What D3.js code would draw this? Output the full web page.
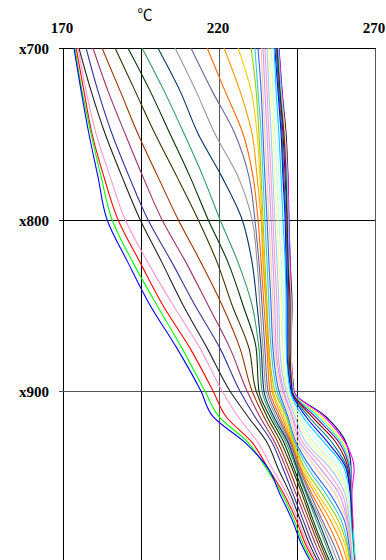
<!DOCTYPE html>
<html><head><meta charset="utf-8">
<script src="https://cdn.jsdelivr.net/npm/d3@7"></script>
<style>
html,body{margin:0;padding:0;background:#fff;overflow:hidden}
text{font-family:"Liberation Serif","Times New Roman",serif}
</style></head>
<body>
<svg id="chart" width="386" height="560"></svg>
<script>
// ---- data ----
const depths = [700,725,750,775,800,825,850,875,900,915,930,945,960,975,990,1005];
const tempTicks = [170,195,220,245,270];
const tempLabels = [170,220,270];
const depthTicks = [700,800,900];
const unitLabel = "℃";

const t01 = [173.5,175.8,178.3,181.2,184.1,190.8,197.9,206.5,214.2,218.1,228.3,235.7,239.5,243.4,246.6,251.1];
const t02 = [173.8,176.1,179.0,182.2,185.7,192.4,200.1,208.1,215.5,220.0,229.3,235.1,240.2,244.0,247.2,251.7];
const t03 = [174.2,176.7,179.3,183.1,187.6,194.7,202.0,210.7,218.1,222.3,230.6,235.7,240.8,244.7,247.9,252.4];
const t04 = [174.8,177.4,180.6,185.1,189.9,197.2,205.3,213.9,221.0,226.1,232.5,237.0,241.8,245.3,248.5,253.0];
const t05 = [175.1,179.0,183.5,188.9,194.7,201.7,208.5,216.2,223.5,229.3,235.4,238.9,242.8,246.0,249.2,253.3];
const t06 = [177.4,181.2,185.7,191.2,197.2,204.9,212.3,220.3,226.7,231.5,237.0,240.5,243.7,246.9,250.1,253.9];
const t07 = [179.6,184.4,189.9,195.6,201.7,209.4,216.5,223.5,229.0,233.1,237.9,241.5,244.7,247.9,251.1,254.9];
const t08 = [182.5,188.3,194.0,200.4,206.9,214.2,221.0,226.7,230.6,234.4,238.9,242.4,245.6,248.8,252.0,255.6];
const t09 = [186.7,193.1,199.5,206.5,213.3,219.4,224.2,229.6,231.9,235.4,239.9,243.4,246.6,249.5,252.7,256.2];
const t10 = [190.8,197.9,204.3,210.7,216.5,222.9,227.7,231.9,232.8,236.3,240.8,244.0,247.2,250.1,253.3,256.9];
const t11 = [195.3,202.4,208.8,214.9,220.3,226.1,230.6,232.8,233.8,237.0,241.5,244.7,247.9,251.1,254.3,257.5];
const t12 = [200.4,207.5,213.3,220.9,227.4,230.6,232.2,233.5,234.4,237.6,242.1,245.0,248.2,251.7,254.9,258.1];
const t13 = [205.9,212.6,218.7,226.1,230.6,232.2,233.1,234.1,235.1,238.3,242.4,245.3,248.5,252.4,255.9,259.1];
const t14 = [211.0,217.8,225.1,229.6,231.5,232.8,233.8,234.7,235.7,238.9,242.8,245.6,249.2,253.0,256.9,260.1];
const t15 = [216.2,221.9,227.7,230.9,232.5,233.5,234.4,235.4,236.3,239.5,243.1,246.0,249.8,254.3,258.1,261.0];
const t16 = [221.6,226.7,230.6,232.2,233.5,234.1,235.1,236.0,237.0,240.2,243.4,246.3,250.8,255.6,259.5,261.7];
const t17 = [226.1,230.3,232.2,233.1,233.8,234.4,235.1,235.7,237.3,240.8,243.7,246.9,251.7,256.9,260.4,262.0];
const t18 = [230.3,231.9,232.8,233.5,234.1,234.7,235.4,236.0,237.9,241.5,244.0,247.5,253.0,258.1,261.0,262.3];
const t19 = [231.5,232.5,233.5,234.1,234.7,235.4,236.0,236.7,238.6,241.8,244.4,248.5,254.3,259.1,261.3,262.3];
const t20 = [232.5,233.5,234.1,234.7,235.4,236.0,236.7,237.3,239.2,242.1,244.7,249.5,255.6,260.1,261.7,262.6];
const t21 = [233.5,234.1,234.7,235.4,236.0,236.7,237.3,237.9,239.9,242.8,245.3,251.1,257.2,260.7,262.0,262.6];
const t22 = [234.1,234.7,235.4,236.0,236.7,237.3,237.9,238.3,240.5,243.4,246.0,252.4,258.5,261.0,262.0,262.6];
const t23 = [234.7,235.4,236.0,236.7,237.3,237.9,238.6,238.9,240.8,243.7,246.9,254.0,259.5,261.3,262.3,262.9];
const t24 = [235.4,236.0,236.7,237.3,237.9,238.6,239.2,239.5,241.5,244.4,247.9,255.6,260.4,261.7,262.3,262.9];
const t25 = [236.0,236.7,237.3,237.9,238.6,239.2,239.9,240.2,241.8,245.0,249.2,256.9,261.0,261.7,262.6,262.9];
const t26 = [236.7,237.3,237.9,238.6,239.2,239.9,240.2,240.5,242.1,245.6,250.4,258.1,261.3,262.0,262.6,263.3];
const t27 = [237.3,237.9,238.6,239.2,239.9,240.5,240.8,241.2,242.4,246.3,252.0,259.1,261.7,262.0,262.6,263.3];
const t28 = [237.6,238.3,239.2,239.9,240.5,241.2,241.5,241.5,242.8,246.9,253.7,260.1,261.7,262.3,262.9,263.3];
const t29 = [237.9,238.9,239.9,240.5,241.2,241.5,241.8,241.8,243.1,247.9,254.9,260.7,262.0,262.3,262.9,263.3];
const t30 = [238.3,239.2,240.2,240.8,241.5,241.8,242.1,242.1,243.1,248.8,256.2,261.0,262.0,262.3,262.9,263.6];
const t31 = [238.6,239.5,240.5,241.2,241.8,242.1,242.4,242.4,243.4,249.8,257.5,261.3,262.0,262.6,262.9,263.6];
const t32 = [238.6,239.5,240.8,241.5,241.8,242.1,242.8,242.8,243.4,250.8,258.5,261.7,262.3,262.6,262.9,263.6];
const t33 = [238.9,239.9,240.8,241.8,242.1,242.4,242.8,242.8,243.7,251.7,259.1,262.0,262.3,262.6,263.3,263.6];
const t34 = [238.9,239.9,241.2,241.8,242.1,242.4,243.1,243.1,243.7,252.7,259.7,262.0,262.3,262.6,263.3,263.6];
const t35 = [239.2,240.2,241.2,242.1,242.4,242.8,243.1,243.1,244.0,253.7,260.4,263.3,262.6,262.9,263.3,263.9];
const t36 = [239.2,240.2,241.5,242.1,242.4,242.8,243.4,243.1,244.0,254.3,260.7,262.3,262.3,262.6,262.9,263.6];

const series = [t01,t02,t03,t04,t05,t06,t07,t08,t09,t10,t11,t12,t13,t14,t15,t16,t17,t18,
                t19,t20,t21,t22,t23,t24,t25,t26,t27,t28,t29,t30,t31,t32,t33,t34,t35,t36];
const colors = ["#0000FF","#00FF00","#FF0000","#FF99CC","#222222","#333399","#993366","#993300",
                "#333300","#003300","#339966","#003366","#969696","#666699","#FF6600","#FF9900",
                "#FFCC00","#99CC00","#33CCCC","#3366FF","#FFCC99","#CC99FF","#FF99CC","#99CCFF",
                "#FFFF99","#CCFFCC","#CCFFFF","#00CCFF","#0000FF","#008080","#800000","#800080",
                "#00FFFF","#FFFF00","#FF00FF","#000080"];

// ---- layout ----
const svg = d3.select("#chart");
const pLeft = 63, pRight = 375, pTop = 48, pBottom = 600;
const x = d3.scaleLinear().domain([170,270]).range([pLeft,pRight]);
const y = d3.scaleLinear().domain([700,900]).range([pTop,391]);

svg.append("defs").append("clipPath").attr("id","clip")
  .append("rect").attr("x",pLeft).attr("y",pTop).attr("width",pRight-pLeft).attr("height",pBottom-pTop);

// gridlines
const g = svg.append("g");
g.selectAll("line.v").data(tempTicks).enter().append("line")
  .attr("x1",d=>Math.round(x(d))+0.5).attr("x2",d=>Math.round(x(d))+0.5)
  .attr("y1",pTop).attr("y2",pBottom)
  .attr("stroke",(d,i)=> (i===2||i===4)?"#555":"#000").attr("stroke-width",1);
g.selectAll("line.h").data(depthTicks).enter().append("line")
  .attr("x1",pLeft-4).attr("x2",pRight)
  .attr("y1",d=>Math.round(y(d))+0.5).attr("y2",d=>Math.round(y(d))+0.5)
  .attr("stroke",(d,i)=> i===2?"#555":"#000").attr("stroke-width",1);
g.append("line").attr("x1",pLeft).attr("x2",pRight+1).attr("y1",pTop+0.5).attr("y2",pTop+0.5).attr("stroke","#000");

// series
const line = d3.line().x(d=>x(d[0])).y(d=>y(d[1])).curve(d3.curveMonotoneY);
const plot = svg.append("g").attr("clip-path","url(#clip)");
for (let i = series.length-1; i >= 0; i--) {
  const pts = series[i].map((t,k)=>[t,depths[k]]);
  plot.append("path").attr("d",line(pts)).attr("fill","none")
    .attr("stroke",colors[i]).attr("stroke-width",1.1).attr("stroke-linejoin","round");
}

// labels
svg.selectAll("text.xl").data(tempLabels).enter().append("text")
  .attr("x",d=>x(d)-1).attr("y",33).attr("text-anchor","middle")
  .attr("font-size",15).attr("font-weight","bold").text(d=>d);
svg.selectAll("text.yl").data(depthTicks).enter().append("text")
  .attr("x",49).attr("y",d=>y(d)+6).attr("text-anchor","end")
  .attr("font-size",15).attr("font-weight","bold").text(d=>"x"+d);
svg.append("text").attr("x",145).attr("y",20).attr("text-anchor","middle")
  .attr("font-size",15).style("font-family","'Liberation Serif','Noto Sans CJK JP',serif").text(unitLabel);
</script>
</body></html>
